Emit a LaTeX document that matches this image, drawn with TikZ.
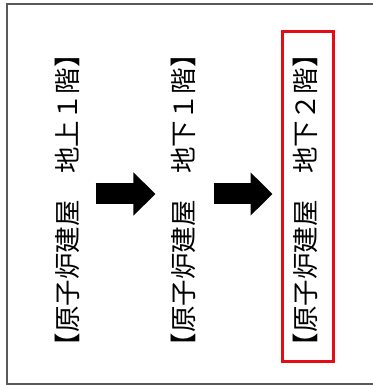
\documentclass[tikz,border=0pt]{standalone}
\usepackage{fontspec}
\setmainfont{Noto Sans CJK JP}
\usetikzlibrary{arrows.meta}
\usetikzlibrary{positioning}
\definecolor{frame}{rgb}{0.35,0.35,0.35}
\definecolor{mark}{rgb}{0.9,0.05,0.08}
\tikzstyle{floor}=[rotate=90, inner sep=0pt, font=\fontsize{26.5pt}{26.5pt}\selectfont]
\tikzstyle{chosen}=[floor, draw=mark, line width=3pt, minimum width=330pt, minimum height=51pt]
\tikzstyle{bigarrow}=[line width=21pt, -{Triangle[length=22pt,width=42pt]}]

\begin{document}
\begin{tikzpicture}[x=1pt, y=1pt]
    \useasboundingbox (0,0) rectangle (372,385);
    \draw[frame, line width=1.3pt] (7,1) rectangle (384,381);

    \node[floor] (ground) at (67,184.5) {【原子炉建屋　地上１階】};
    \node[floor] (basement1) at (183,184.5) {【原子炉建屋　地下１階】};
    \node[chosen] (basement2) at (307.5,188) {};
    \node[floor] (label2) at (305,184.5) {【原子炉建屋　地下２階】};

    \draw[bigarrow, shorten <=16pt, shorten >=15pt] ([yshift=6.5pt]ground.south) -- ([yshift=6.5pt]basement1.north) ;
    \draw[bigarrow, shorten <=18pt, shorten >=8pt] ([yshift=6.5pt]basement1.south) -- ([yshift=3pt]basement2.north) ;
\end{tikzpicture}
\end{document}
